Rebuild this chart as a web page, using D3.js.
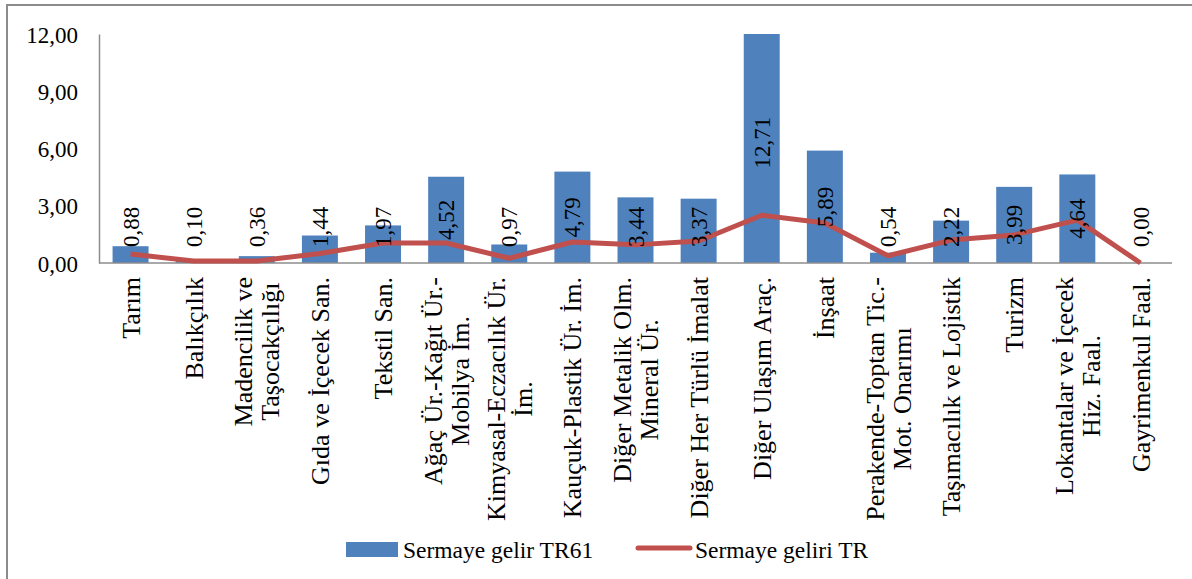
<!DOCTYPE html>
<html>
<head>
<meta charset="utf-8">
<script src="https://cdn.jsdelivr.net/npm/d3@7"></script>
<style>
  body { margin: 0; background: #fff; }
</style>
</head>
<body>
<div id="chart"></div>
<script>
const categories = [
  ["Tarım"],
  ["Balıkçılık"],
  ["Madencilik ve", "Taşocakçılığı"],
  ["Gıda ve İçecek San."],
  ["Tekstil San."],
  ["Ağaç Ür.-Kağıt Ür.-", "Mobilya İm."],
  ["Kimyasal-Eczacılık Ür.", "İm."],
  ["Kauçuk-Plastik Ür. İm."],
  ["Diğer Metalik Olm.", "Mineral Ür."],
  ["Diğer Her Türlü İmalat"],
  ["Diğer Ulaşım Araç."],
  ["İnşaat"],
  ["Perakende-Toptan Tic.-", "Mot. Onarımı"],
  ["Taşımacılık ve Lojistik"],
  ["Turizm"],
  ["Lokantalar ve İçecek", "Hiz. Faal."],
  ["Gayrimenkul Faal."]
];
const tr61 = [0.88, 0.10, 0.36, 1.44, 1.97, 4.52, 0.97, 4.79, 3.44, 3.37, 12.71, 5.89, 0.54, 2.22, 3.99, 4.64, 0.00];
const trTotal = [0.47, 0.10, 0.10, 0.50, 1.05, 1.05, 0.25, 1.10, 0.95, 1.15, 2.50, 2.10, 0.38, 1.20, 1.47, 2.25, 0.00];
const yTicks = [0, 3, 6, 9, 12];
const seriesNames = ["Sermaye gelir TR61", "Sermaye geliri TR"];

const width = 1192, height = 579;
const font = "\"Liberation Serif\"";
const blue = "#4F81BD", red = "#C0504D", axisGray = "#8c8c8c";

const loc = d3.formatLocale({ decimal: ",", thousands: ".", grouping: [3], currency: ["", ""] });
const fmt = loc.format(".2f");

const svg = d3.select("#chart").append("svg")
  .attr("width", width).attr("height", height);

// outer frame
svg.append("rect")
  .attr("x", 7).attr("y", 5).attr("width", 1200).attr("height", 600)
  .attr("fill", "none").attr("stroke", axisGray).attr("stroke-width", 2);

const x = d3.scaleBand()
  .domain(d3.range(categories.length))
  .range([99, 1172])
  .paddingInner(0.43).paddingOuter(0.215);
const xc = i => x(i) + x.bandwidth() / 2;

const y = d3.scaleLinear().domain([0, 12]).range([263, 34]);

svg.append("defs").append("clipPath").attr("id", "plot")
  .append("rect").attr("x", 99).attr("y", 34).attr("width", 1073).attr("height", 229);

// bars
svg.append("g").attr("clip-path", "url(#plot)")
  .selectAll("rect").data(tr61).join("rect")
  .attr("x", (d, i) => x(i))
  .attr("width", x.bandwidth())
  .attr("y", d => y(Math.min(d, 12)))
  .attr("height", d => y(0) - y(Math.min(d, 12)))
  .attr("fill", blue);

// axes
const yAxis = svg.append("g").attr("transform", "translate(99,0)")
  .call(d3.axisLeft(y).tickValues(yTicks).tickFormat(fmt).tickSize(0).tickPadding(21));
yAxis.select(".domain").attr("stroke", axisGray).attr("stroke-width", 1.5);
yAxis.selectAll("text").style("font-family", font).style("font-size", "23px").attr("fill", "#000").attr("dy", "0.35em");

svg.append("line")
  .attr("x1", 99).attr("x2", 1172).attr("y1", y(0)).attr("y2", y(0))
  .attr("stroke", axisGray).attr("stroke-width", 1.5);

// line series
const line = d3.line().x((d, i) => xc(i)).y(d => y(d));
svg.append("path").datum(trTotal)
  .attr("d", line)
  .attr("fill", "none").attr("stroke", red).attr("stroke-width", 5)
  .attr("stroke-linejoin", "round");

// data labels (rotated)
const labelG = svg.append("g");
tr61.forEach((v, i) => {
  const t = labelG.append("text")
    .style("font-family", font)
    .style("font-size", "23px")
    .attr("text-anchor", "middle")
    .attr("dy", "0.35em")
    .text(fmt(v));
  const len = t.node().getComputedTextLength();
  let cy = (y(0) + y(Math.min(v, 12))) / 2;
  cy = Math.min(cy, y(0) - 16 - len / 2);
  if (v > 12) cy -= 6;
  t.attr("transform", `translate(${xc(i)},${cy}) rotate(-90)`);
});

// category labels
const catG = svg.append("g");
categories.forEach((lines, i) => {
  const g = catG.append("g");
  const texts = lines.map(s => g.append("text")
    .style("font-family", font)
    .style("font-size", "26px").attr("text-anchor", "middle").text(s));
  const maxLen = d3.max(texts, t => t.node().getComputedTextLength());
  const n = lines.length, lh = 27;
  texts.forEach((t, k) => {
    t.attr("x", -maxLen / 2).attr("y", (k - (n - 1) / 2) * lh).attr("dy", "0.35em");
  });
  g.attr("transform", `translate(${xc(i)},277) rotate(-90)`);
});

// legend
const leg = svg.append("g");
leg.append("rect").attr("x", 346).attr("y", 542).attr("width", 52).attr("height", 15).attr("fill", blue);
leg.append("text").attr("x", 403).attr("y", 558)
  .style("font-family", font).style("font-size", "23.5px").text(seriesNames[0]);
leg.append("line").attr("x1", 638).attr("x2", 690).attr("y1", 548).attr("y2", 548)
  .attr("stroke", red).attr("stroke-width", 5).attr("stroke-linecap", "round");
leg.append("text").attr("x", 695).attr("y", 558)
  .style("font-family", font).style("font-size", "23.5px").text(seriesNames[1]);
</script>
</body>
</html>
